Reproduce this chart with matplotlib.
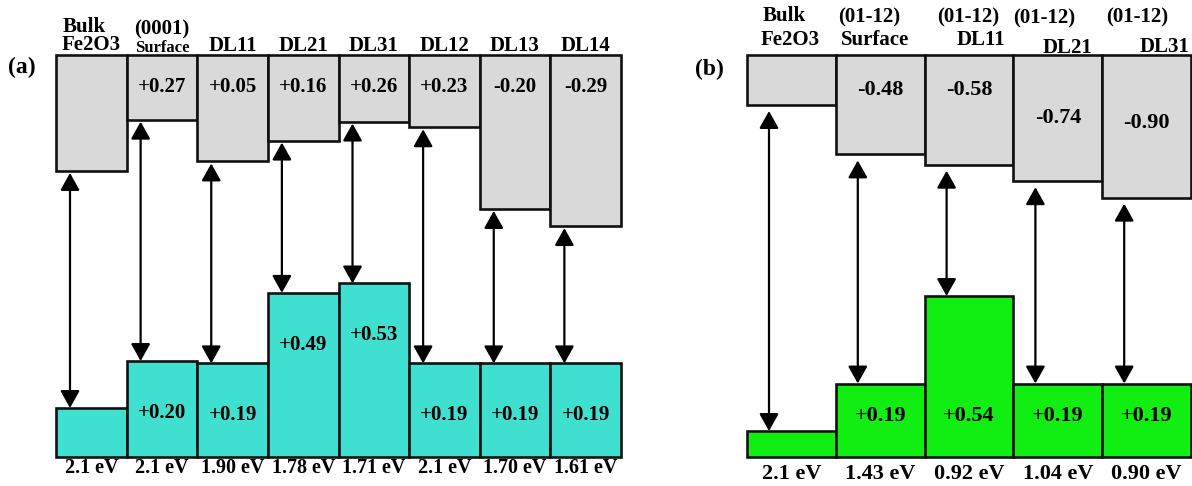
import matplotlib.pyplot as plt

plt.rcParams['font.family'] = ['Liberation Serif', 'DejaVu Serif']
plt.rcParams['font.weight'] = 'bold'

# (a) Fe2O3 (0001) surface and doped layers
a_head = ['Bulk', '(0001)', '', '', '', '', '', '']
a_names = ['Fe2O3', 'Surface', 'DL11', 'DL21', 'DL31', 'DL12', 'DL13', 'DL14']
a_cb = [0.0, 0.27, 0.05, 0.16, 0.26, 0.23, -0.20, -0.29]
a_vb = [0.0, 0.20, 0.19, 0.49, 0.53, 0.19, 0.19, 0.19]
a_gap = ['2.1', '2.1', '1.90', '1.78', '1.71', '2.1', '1.70', '1.61']

# (b) Fe2O3 (01-12) surface and doped layers
b_head = ['Bulk', '(01-12)', '(01-12)', '(01-12)', '(01-12)']
b_names = ['Fe2O3', 'Surface', 'DL11', 'DL21', 'DL31']
b_cb = [0.0, -0.48, -0.58, -0.74, -0.90]
b_vb = [0.0, 0.19, 0.54, 0.19, 0.19]
b_gap = ['2.1', '1.43', '0.92', '1.04', '0.90']

TOP = 55      # upper edge of the conduction band boxes (px)
BASE = 457    # lower edge of the valence band boxes (px)


def draw_panel(ax, x0, w, cb, vb, gap, cb_depth, cb_scale, vb_h, vb_scale,
               color, arrow_dx, arrow_gap, cb_text_y, vb_text_y, gap_y, fs, gfs):
    n = len(cb)
    lefts = [x0 + i * w for i in range(n)]
    centers = [l + w / 2 for l in lefts]
    cb_edge = [TOP + cb_depth - v * cb_scale for v in cb]
    vb_edge = [BASE - vb_h - v * vb_scale for v in vb]

    ax.bar(lefts, [e - TOP for e in cb_edge], bottom=TOP, width=w, align='edge',
           color='#d9d9d9', edgecolor='#111111', linewidth=1.9, zorder=2)
    ax.bar(lefts, [e - BASE for e in vb_edge], bottom=BASE, width=w, align='edge',
           color=color, edgecolor='#111111', linewidth=1.9, zorder=2)

    for i in range(n):
        xa = lefts[i] + arrow_dx
        ax.annotate('', xy=(xa, cb_edge[i] + arrow_gap), xytext=(xa, vb_edge[i]),
                    arrowprops=dict(arrowstyle='<|-|>,head_length=0.75,head_width=0.42',
                                    mutation_scale=14, color='black', lw=1.6,
                                    shrinkA=0, shrinkB=0), zorder=3)
        if i > 0:
            ty = cb_text_y[i] if isinstance(cb_text_y, list) else cb_text_y
            ax.text(centers[i], ty, f'{cb[i]:+.2f}', ha='center', va='baseline',
                    fontsize=fs, zorder=4)
            vy = vb_edge[i] + 57 if vb_text_y is None else vb_text_y
            ax.text(centers[i], vy, f'{vb[i]:+.2f}', ha='center', va='baseline',
                    fontsize=fs, zorder=4)
        ax.text(centers[i], gap_y, f'{gap[i]} eV', ha='center', va='baseline',
                fontsize=gfs)
    return lefts, centers


fig = plt.figure(figsize=(11.92, 4.86), dpi=100)
ax = fig.add_axes([0, 0, 1, 1])
ax.set_xlim(0, 1192)
ax.set_ylim(486, 0)
ax.axis('off')

# panel (a)
wa = (621 - 56) / len(a_cb)
la, ca = draw_panel(ax, 56, wa, a_cb, a_vb, a_gap, 116, 190, 49, 235, '#40e0d0',
                    14, 2, 92, None, 473, 15, 14.5)
ax.text(la[0] + 7, 32, a_head[0], ha='left', va='baseline', fontsize=15)
ax.text(la[0] + 6, 50, a_names[0], ha='left', va='baseline', fontsize=15)
ax.text(ca[1], 34, a_head[1], ha='center', va='baseline', fontsize=15)
ax.text(ca[1], 52, a_names[1], ha='center', va='baseline', fontsize=12)
for i in range(2, len(a_names)):
    ax.text(ca[i], 51, a_names[i], ha='center', va='baseline', fontsize=15)
ax.text(8, 67, '(a)', ha='left', va='center', fontsize=17)

# panel (b)
wb = (1191 - 747) / len(b_cb)
lb, cbx = draw_panel(ax, 747, wb, b_cb, b_vb, b_gap, 50, 103, 26, 250, '#11ee11',
                     22, 6, [0, 95, 95, 123, 128], 421, 479, 16, 16)
ax.text(lb[0] + 16, 21, b_head[0], ha='left', va='baseline', fontsize=15)
ax.text(lb[0] + 14, 45, b_names[0], ha='left', va='baseline', fontsize=15)
ax.text(lb[1] + 2, 22, b_head[1], ha='left', va='baseline', fontsize=15)
ax.text(lb[1] + 5, 45, b_names[1], ha='left', va='baseline', fontsize=15)
ax.text(lb[2] + 13, 22, b_head[2], ha='left', va='baseline', fontsize=15)
ax.text(lb[3] - 8, 45, b_names[2], ha='right', va='baseline', fontsize=15)
ax.text(lb[3], 23, b_head[3], ha='left', va='baseline', fontsize=15)
ax.text(lb[4] - 10, 53, b_names[3], ha='right', va='baseline', fontsize=15)
ax.text(lb[4] + 4, 22, b_head[4], ha='left', va='baseline', fontsize=15)
ax.text(1189, 52, b_names[4], ha='right', va='baseline', fontsize=15)
ax.text(695, 69, '(b)', ha='left', va='center', fontsize=17)

fig.savefig('out.png', dpi=100)
